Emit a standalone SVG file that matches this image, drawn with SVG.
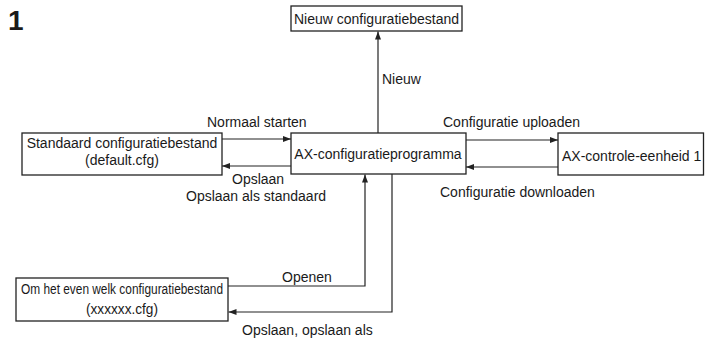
<svg xmlns="http://www.w3.org/2000/svg" width="705" height="345" viewBox="0 0 705 345">
<style>
  text { font-family: "Liberation Sans", Arial, sans-serif; font-size: 14px; fill: #1a1a1a; }
  .box { fill: #ffffff; stroke: #222222; stroke-width: 1.3; }
  .conn { fill: none; stroke: #222222; stroke-width: 1.2; marker-end: url(#arrow); }
  .mid { text-anchor: middle; }
</style>
<defs>
  <marker id="arrow" markerUnits="userSpaceOnUse" markerWidth="9" markerHeight="7" refX="8" refY="3" orient="auto">
    <path d="M0,0 L8,3 L0,6 z" fill="#222222"/>
  </marker>
</defs>
<rect width="705" height="345" fill="#ffffff"/>
<text x="8" y="30" style="font-size:28px;font-weight:bold;">1</text>

<g id="connectors">
  <line class="conn" x1="378" y1="133" x2="378" y2="31.5"/>
  <line class="conn" x1="222" y1="139" x2="291" y2="139"/>
  <line class="conn" x1="291" y1="166" x2="222" y2="166"/>
  <line class="conn" x1="466" y1="140" x2="558" y2="140"/>
  <line class="conn" x1="558" y1="167" x2="466" y2="167"/>
  <path class="conn" d="M228,286 H365 V174.5"/>
  <path class="conn" d="M392,174 V312 H228.5"/>
  <text x="382" y="84">Nieuw</text>
  <text x="207" y="127">Normaal starten</text>
  <text x="232" y="184">Opslaan</text>
  <text x="186" y="201">Opslaan als standaard</text>
  <text x="443" y="127">Configuratie uploaden</text>
  <text x="440" y="197">Configuratie downloaden</text>
  <text x="282" y="282">Openen</text>
  <text x="242" y="335">Opslaan, opslaan als</text>
</g>

<g id="nieuw">
  <rect class="box" x="291" y="6" width="171" height="25"/>
  <text class="mid" x="376.5" y="24">Nieuw configuratiebestand</text>
</g>

<g id="standaard">
  <rect class="box" x="22" y="133" width="200" height="42"/>
  <text class="mid" x="122" y="148">Standaard configuratiebestand</text>
  <text class="mid" x="122" y="165">(default.cfg)</text>
</g>

<g id="programma">
  <rect class="box" x="291" y="133" width="175" height="41"/>
  <text class="mid" x="378" y="159">AX-configuratieprogramma</text>
</g>

<g id="controle">
  <rect class="box" x="558" y="133" width="145.5" height="42"/>
  <text x="562" y="161">AX-controle-eenheid 1</text>
</g>

<g id="willekeurig">
  <rect class="box" x="16" y="278" width="212" height="43"/>
  <text class="mid" x="122" y="294" textLength="202" lengthAdjust="spacingAndGlyphs">Om het even welk configuratiebestand</text>
  <text class="mid" x="122" y="314" textLength="72" lengthAdjust="spacingAndGlyphs">(xxxxxx.cfg)</text>
</g>
</svg>
